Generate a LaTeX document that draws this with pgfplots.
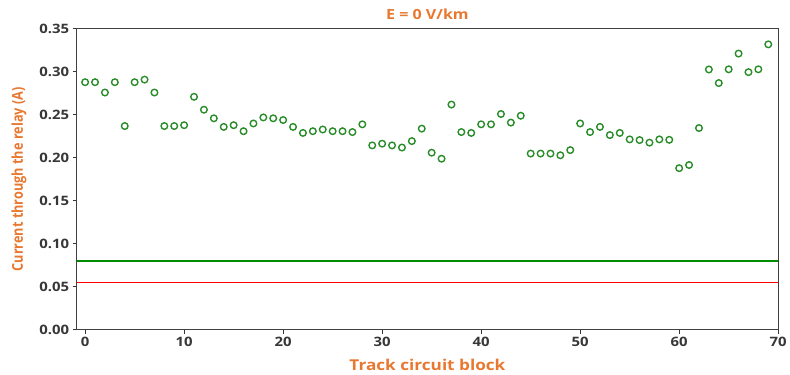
\documentclass[border=0pt]{standalone}
\usepackage{pgfplots}
\pgfplotsset{compat=1.18}
\usepackage{fontspec}
\setmainfont{Open Sans}
\newfontfamily\hfont[FakeStretch=1.15]{Open Sans}
\newfontfamily\vfont[FakeStretch=0.85]{Open Sans}
\definecolor{ttlcol}{RGB}{232,120,48}
\definecolor{mkcol}{RGB}{40,140,40}
\definecolor{tkcol}{RGB}{55,55,55}
\begin{document}
\begin{tikzpicture}
\begin{axis}[
  scale only axis, width=704pt, height=302pt,
  xmin=-0.85, xmax=70, ymin=0, ymax=0.35,
  xtick={0,10,...,70}, ytick={0,0.05,...,0.35},
  yticklabel style={/pgf/number format/fixed,/pgf/number format/fixed zerofill,/pgf/number format/precision=2},
  /pgf/number format/assume math mode=true,
  tick align=outside, tick pos=left, major tick length=4pt,
  tick style={tkcol, line width=1pt},
  axis line style={black!75, line width=1pt},
  ticklabel style={font=\hfont\bfseries\fontsize{13}{15}\selectfont, text=tkcol},
  title={E = 0 V/km},
  title style={font=\hfont\bfseries\fontsize{14}{16}\selectfont, text=ttlcol, at={(rel axis cs:0.5,1)}, anchor=center, yshift=9pt},
  xlabel={Track circuit block},
  ylabel={Current through the relay (A)},
  xlabel style={font=\hfont\bfseries\fontsize{15}{17}\selectfont, text=ttlcol, at={(rel axis cs:0.5,0)}, anchor=center, yshift=-35pt},
  ylabel style={font=\vfont\bfseries\fontsize{15}{17}\selectfont, text=ttlcol, at={(rel axis cs:0,0.5)}, anchor=center, yshift=58pt},
  clip=false,
]
\addplot[only marks, mark=o, mark size=3.3pt, mark options={color=mkcol, line width=1.4pt}] coordinates {
(0,0.288) (1,0.288) (2,0.276) (3,0.288) (4,0.237) (5,0.288) (6,0.291) (7,0.276) (8,0.237) (9,0.237)
(10,0.238) (11,0.271) (12,0.256) (13,0.246) (14,0.236) (15,0.238) (16,0.231) (17,0.240) (18,0.247) (19,0.246)
(20,0.244) (21,0.236) (22,0.229) (23,0.231) (24,0.233) (25,0.231) (26,0.231) (27,0.230) (28,0.239) (29,0.2145)
(30,0.2165) (31,0.2145) (32,0.212) (33,0.2195) (34,0.234) (35,0.206) (36,0.199) (37,0.262) (38,0.230) (39,0.229)
(40,0.239) (41,0.239) (42,0.251) (43,0.241) (44,0.249) (45,0.205) (46,0.205) (47,0.205) (48,0.203) (49,0.209)
(50,0.240) (51,0.230) (52,0.236) (53,0.2265) (54,0.229) (55,0.2215) (56,0.2207) (57,0.2177) (58,0.2215) (59,0.221)
(60,0.188) (61,0.1917) (62,0.2347) (63,0.3028) (64,0.287) (65,0.303) (66,0.3213) (67,0.2997) (68,0.303) (69,0.332)
};
\addplot[green!55!black, line width=1.6pt, mark=none] coordinates {(-0.85,0.080) (70,0.080)};
\addplot[red, line width=1.6pt, mark=none] coordinates {(-0.85,0.055) (70,0.055)};
\end{axis}
\path (current axis.south west) ++(-77pt,-45pt) rectangle ++(790pt,376pt);
\end{tikzpicture}
\end{document}
